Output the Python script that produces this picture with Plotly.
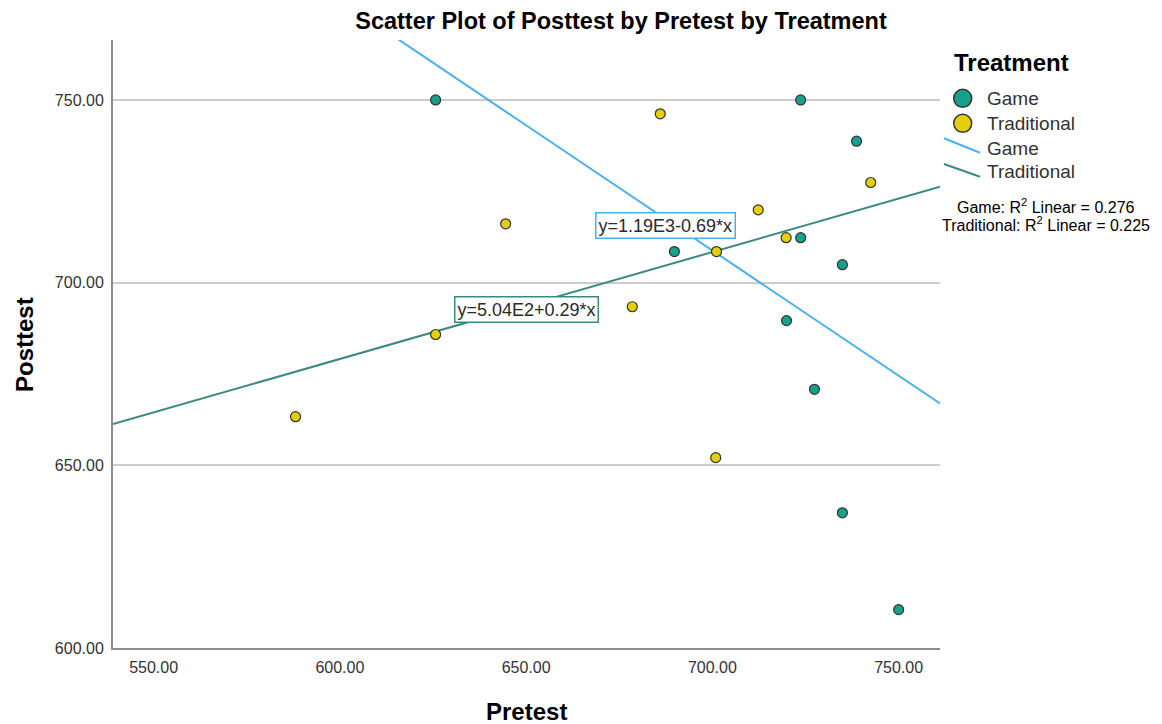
import numpy as np
import plotly.graph_objects as go

# ---------------- data ----------------
game_pretest = [625.7, 689.8, 723.7, 738.7, 723.7, 734.9, 719.9, 727.4, 734.9, 750.0]
game_posttest = [750.0, 708.5, 750.0, 738.7, 712.3, 704.9, 689.6, 670.8, 637.0, 610.5]
trad_pretest = [686.0, 644.5, 712.3, 719.8, 742.5, 701.1, 678.5, 625.7, 588.1, 700.9]
trad_posttest = [746.2, 716.1, 719.9, 712.3, 727.4, 708.5, 693.4, 685.8, 663.3, 652.1]
group_names = ["Game", "Traditional"]
equation_labels = ["y=1.19E3-0.69*x", "y=5.04E2+0.29*x"]
r2_labels = ["Game: R<sup>2</sup> Linear = 0.276", "Traditional: R<sup>2</sup> Linear = 0.225"]
x_ticks = [550, 600, 650, 700, 750]
y_ticks = [600, 650, 700, 750]

# ---------------- style ----------------
TEAL = "#17A18C"
YELLOW = "#E3CF0B"
GAME_LINE = "#4CB0EE"
TRAD_LINE = "#3B8A82"
FONT = "Liberation Sans, Arial, sans-serif"
X_RANGE = [539.1, 761.1]
Y_RANGE = [600, 766.4]

OFF = 8  # page body margin
W, H = 1154, 716
ML, MR, MT, MB = 105, 222, 32, 76
PW, PH = W - ML - MR, H - MT - MB


def px(xp):
    return (xp - OFF - ML) / PW


def py(yp):
    return (H - MB - (yp - OFF)) / PH


fig = go.Figure()

# fit lines from the data
xs = np.array(X_RANGE)
for xd, yd, col in [(game_pretest, game_posttest, GAME_LINE), (trad_pretest, trad_posttest, TRAD_LINE)]:
    slope, intercept = np.polyfit(xd, yd, 1)
    fig.add_trace(go.Scatter(x=xs, y=intercept + slope * xs, mode="lines",
                             line=dict(color=col, width=2), showlegend=False, hoverinfo="skip"))

for xd, yd, col, name in [(trad_pretest, trad_posttest, YELLOW, group_names[1]),
                          (game_pretest, game_posttest, TEAL, group_names[0])]:
    fig.add_trace(go.Scatter(x=xd, y=yd, mode="markers", name=name,
                             marker=dict(size=10, color=col, line=dict(color="#333333", width=1.2)),
                             showlegend=False))

annotations = []
shapes = []

# equation boxes
for (xp, yp), txt, col in [((665.4, 225), equation_labels[0], GAME_LINE),
                           ((526.5, 309.5), equation_labels[1], TRAD_LINE)]:
    annotations.append(dict(x=px(xp), y=py(yp), xref="paper", yref="paper", text=txt, showarrow=False,
                            font=dict(family=FONT, size=18, color="#2A2A2A"), bgcolor="white",
                            bordercolor=col, borderwidth=1.5, borderpad=2,
                            xanchor="center", yanchor="middle"))

# custom legend
annotations.append(dict(x=px(952), y=py(62), xref="paper", yref="paper", text="<b>Treatment</b>",
                        showarrow=False, xanchor="left", yanchor="middle",
                        font=dict(family=FONT, size=24, color="black")))
for yp, col, name in [(98.3, TEAL, group_names[0]), (123.3, YELLOW, group_names[1])]:
    shapes.append(dict(type="circle", xref="paper", yref="paper", xsizemode="pixel", ysizemode="pixel",
                       xanchor=px(962.7), yanchor=py(yp), x0=-9, x1=9, y0=-9, y1=9,
                       fillcolor=col, line=dict(color="#333333", width=1.5)))
    annotations.append(dict(x=px(985), y=py(yp), xref="paper", yref="paper", text=name, showarrow=False,
                            xanchor="left", yanchor="middle", font=dict(family=FONT, size=19, color="#333333")))
for (y0, y1, yt), col, name in [((138.3, 152.7, 148.3), GAME_LINE, group_names[0]),
                                ((164.0, 176.7, 171.7), TRAD_LINE, group_names[1])]:
    shapes.append(dict(type="line", xref="paper", yref="paper", x0=px(944), x1=px(980),
                       y0=py(y0), y1=py(y1), line=dict(color=col, width=2)))
    annotations.append(dict(x=px(985), y=py(yt), xref="paper", yref="paper", text=name, showarrow=False,
                            xanchor="left", yanchor="middle", font=dict(family=FONT, size=19, color="#333333")))
for yp, txt in [(205.7, r2_labels[0]), (224.3, r2_labels[1])]:
    annotations.append(dict(x=px(1045.8), y=py(yp), xref="paper", yref="paper", text=txt, showarrow=False,
                            xanchor="center", yanchor="middle", font=dict(family=FONT, size=16, color="black")))

# axis titles
annotations.append(dict(x=0.5, y=py(711), xref="paper", yref="paper", text="<b>Pretest</b>", showarrow=False,
                        xanchor="center", yanchor="middle", font=dict(family=FONT, size=24, color="black")))
annotations.append(dict(x=px(24), y=py(345), xref="paper", yref="paper", text="<b>Posttest</b>", showarrow=False,
                        textangle=-90, xanchor="center", yanchor="middle",
                        font=dict(family=FONT, size=24, color="black")))

fig.update_layout(
    width=W, height=H,
    margin=dict(l=ML, r=MR, t=MT, b=MB),
    paper_bgcolor="white", plot_bgcolor="white",
    title=dict(text="<b>Scatter Plot of Posttest by Pretest by Treatment</b>", x=(621 - OFF) / W,
               y=1 - (21 - OFF) / H,
               xref="container", yref="container", xanchor="center", yanchor="middle",
               font=dict(family=FONT, size=23.5, color="black")),
    xaxis=dict(range=X_RANGE, tickvals=x_ticks, ticktext=[f"{v:.2f}" for v in x_ticks],
               showgrid=False, zeroline=False, showline=True, linecolor="#8C8C8C", linewidth=2,
               ticks="", tickfont=dict(family=FONT, size=16, color="#333333"), ticklabelstandoff=4),
    yaxis=dict(range=Y_RANGE, tickvals=y_ticks, ticktext=[f"{v:.2f}" for v in y_ticks],
               showgrid=True, gridcolor="#CCCCCC", gridwidth=1.5, zeroline=False,
               showline=True, linecolor="#8C8C8C", linewidth=2,
               ticks="", tickfont=dict(family=FONT, size=16, color="#333333"), ticklabelstandoff=4),
    annotations=annotations, shapes=shapes,
    showlegend=False,
)

fig.write_html("out.html")
